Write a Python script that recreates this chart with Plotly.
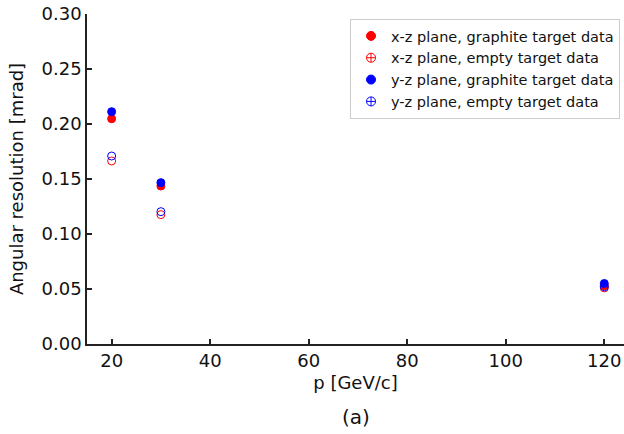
import plotly.graph_objects as go

momentum = [20, 30, 120]
xz_graphite = [0.2048, 0.1436, 0.0530]
xz_empty = [0.1664, 0.1176, 0.0510]
yz_graphite = [0.2112, 0.1467, 0.0550]
yz_empty = [0.1709, 0.1203, 0.0520]
names = ["x-z plane, graphite target data", "x-z plane, empty target data",
         "y-z plane, graphite target data", "y-z plane, empty target data"]

series = [
    (xz_graphite, "red", True),
    (xz_empty, "red", False),
    (yz_graphite, "blue", True),
    (yz_empty, "blue", False),
]

fig = go.Figure()
for (vals, col, filled), name in zip(series, names):
    fig.add_trace(go.Scatter(
        x=momentum, y=vals, mode="markers", showlegend=False,
        marker=dict(symbol="circle" if filled else "circle-open", size=8,
                    color=col, line=dict(color=col, width=1)),
    ))
for (vals, col, filled), name in zip(series, names):
    fig.add_trace(go.Scatter(
        x=[None], y=[None], mode="markers", name=name,
        marker=dict(symbol="circle-cross" if filled else "circle-cross-open",
                    size=9, color=col, line=dict(color=col, width=1)),
    ))

FONT = "DejaVu Sans"
axis_common = dict(
    showline=True, linecolor="#222", linewidth=1.5, ticks="inside",
    ticklen=5, tickwidth=1.5, tickcolor="#222", showgrid=False, zeroline=False,
    tickfont=dict(family=FONT, size=18, color="#111"),
    mirror=False, automargin=False,
)

fig.update_layout(
    width=624, height=434,
    margin=dict(l=87, r=0, t=14, b=90),
    plot_bgcolor="white", paper_bgcolor="white",
    xaxis=dict(range=[15, 124], tickvals=[20, 40, 60, 80, 100, 120],
               title=dict(text="p [GeV/c]", font=dict(family=FONT, size=18, color="#111"),
                          standoff=6),
               **axis_common),
    yaxis=dict(range=[0, 0.30], tickvals=[0, 0.05, 0.10, 0.15, 0.20, 0.25, 0.30],
               tickformat=".2f",
               title=dict(text="Angular resolution [mrad]",
                          font=dict(family=FONT, size=18, color="#111"), standoff=13),
               **axis_common),
    legend=dict(x=0.9926, y=0.985, xanchor="right", yanchor="top",
                bordercolor="#cccccc", borderwidth=1, bgcolor="rgba(255,255,255,0.8)",
                font=dict(family=FONT, size=14.5, color="#111")),
    annotations=[dict(text="(a)", xref="paper", yref="paper", x=0.5, y=-0.18,
                      xanchor="center", yanchor="top", showarrow=False,
                      font=dict(family=FONT, size=20, color="#111"))],
)

fig.write_html("out.html", config={"displayModeBar": False},
               post_script="document.body.style.margin='0px';")
